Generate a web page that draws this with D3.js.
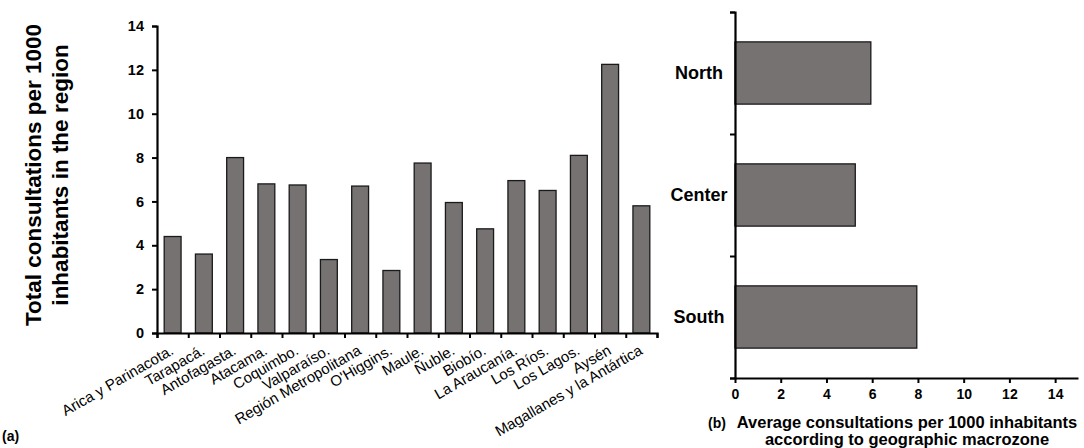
<!DOCTYPE html>
<html lang="en">
<head>
    <meta charset="UTF-8">
    <title>Consultations per 1000 inhabitants</title>
    <style>
        body, html {
            margin: 0;
            padding: 0;
            background-color: #fff;
        }
        svg text {
            font-family: "Liberation Sans", Arial, sans-serif;
            fill: #000;
        }
    </style>
</head>
<body>
    <div id="chart"></div>

    <script src="https://d3js.org/d3.v7.min.js"></script>
    <script>
        // (a) regions
        const regions = ["Arica y Parinacota.", "Tarapacá.", "Antofagasta.", "Atacama.", "Coquimbo.",
            "Valparaíso.", "Región Metropolitana", "O'Higgins.", "Maule.", "Ñuble.", "Biobío.",
            "La Araucanía.", "Los Ríos.", "Los Lagos.", "Aysén", "Magallanes y la Antártica"];
        const regionValues = [4.4, 3.6, 8.0, 6.8, 6.75, 3.35, 6.7, 2.85, 7.75, 5.95, 4.75, 6.95, 6.5, 8.1, 12.25, 5.8];
        const yTicksA = [0, 2, 4, 6, 8, 10, 12, 14];

        // (b) macrozones
        const zones = ["North", "Center", "South"];
        const zoneValues = [5.94, 5.26, 7.95];
        const xTicksB = [0, 2, 4, 6, 8, 10, 12, 14];

        const width = 1084, height = 448;
        const barFill = "#767272";
        const barStroke = "#1a1a1a";

        const svg = d3.select("#chart")
            .append("svg")
            .attr("width", width)
            .attr("height", height);

        // ---------- panel (a) ----------
        const xA = d3.scaleBand().domain(regions).range([157, 657]).paddingInner(0.46).paddingOuter(0.23);
        const xTickA = d3.scaleLinear().domain([0, regions.length]).range([157, 657]);
        const yA = d3.scaleLinear().domain([0, 14]).range([333, 26]);

        svg.append("g")
            .selectAll("rect")
            .data(regionValues)
            .join("rect")
            .attr("x", (d, i) => xA(regions[i]))
            .attr("y", d => yA(d))
            .attr("width", xA.bandwidth())
            .attr("height", d => yA(0) - yA(d))
            .attr("fill", barFill)
            .attr("stroke", barStroke)
            .attr("stroke-width", 1.3);

        const yAxisA = svg.append("g")
            .attr("transform", "translate(157,0)")
            .call(d3.axisLeft(yA).tickValues(yTicksA).tickSize(5).tickPadding(8));
        yAxisA.selectAll("text").attr("font-size", 14.5).attr("font-weight", "bold");

        const xAxisA = svg.append("g")
            .attr("transform", "translate(0,333)")
            .call(d3.axisBottom(xTickA).ticks(regions.length).tickSize(5).tickFormat(""));

        [yAxisA, xAxisA].forEach(g => {
            g.select(".domain").attr("stroke-width", 2.2);
            g.selectAll(".tick line").attr("stroke-width", 2);
        });

        // rotated region labels
        svg.append("g")
            .selectAll("text")
            .data(regions)
            .join("text")
            .attr("transform", d => `translate(${xA(d) + xA.bandwidth() / 2 - 4},${343}) rotate(-30)`)
            .attr("text-anchor", "end")
            .attr("dy", "0.8em")
            .attr("font-size", 15)
            .text(d => d);

        const titleA = svg.append("text")
            .attr("transform", "translate(47,175) rotate(-90)")
            .attr("text-anchor", "middle")
            .attr("font-size", 22.5)
            .attr("font-weight", "bold");
        titleA.append("tspan").attr("x", 0).attr("dy", "-0.25em").text("Total consultations per 1000");
        titleA.append("tspan").attr("x", 0).attr("dy", "1.18em").text("inhabitants in the region");

        svg.append("text")
            .attr("x", 2).attr("y", 441)
            .attr("font-size", 14).attr("font-weight", "bold")
            .text("(a)");

        // ---------- panel (b) ----------
        const yB = d3.scaleBand().domain(zones).range([12, 378]).paddingInner(0.49).paddingOuter(0.245);
        const yTickB = d3.scaleLinear().domain([0, zones.length]).range([12, 378]);
        const xB = d3.scaleLinear().domain([0, 15]).range([735, 1078]);

        svg.append("g")
            .selectAll("rect")
            .data(zoneValues)
            .join("rect")
            .attr("x", xB(0))
            .attr("y", (d, i) => yB(zones[i]))
            .attr("width", d => xB(d) - xB(0))
            .attr("height", yB.bandwidth())
            .attr("fill", barFill)
            .attr("stroke", barStroke)
            .attr("stroke-width", 1.3);

        const yAxisB = svg.append("g")
            .attr("transform", "translate(735,0)")
            .call(d3.axisLeft(yTickB).ticks(zones.length).tickSize(5).tickFormat(""));

        const xAxisB = svg.append("g")
            .attr("transform", "translate(0,378)")
            .call(d3.axisBottom(xB).tickValues(xTicksB).tickSize(5).tickPadding(6).tickSizeOuter(0));
        xAxisB.selectAll("text").attr("font-size", 14).attr("font-weight", "bold");

        [yAxisB, xAxisB].forEach(g => {
            g.select(".domain").attr("stroke-width", 2.2);
            g.selectAll(".tick line").attr("stroke-width", 2);
        });

        svg.append("g")
            .selectAll("text")
            .data(zones)
            .join("text")
            .attr("x", 699)
            .attr("y", d => yB(d) + yB.bandwidth() / 2)
            .attr("dy", "0.35em")
            .attr("text-anchor", "middle")
            .attr("font-size", 18)
            .attr("font-weight", "bold")
            .text(d => d);

        const titleB = svg.append("text")
            .attr("text-anchor", "middle")
            .attr("font-size", 16.5)
            .attr("font-weight", "bold");
        titleB.append("tspan").attr("x", 907).attr("y", 428).text("Average consultations per 1000 inhabitants");
        titleB.append("tspan").attr("x", 907).attr("y", 445).text("according to geographic macrozone");

        svg.append("text")
            .attr("x", 708).attr("y", 428)
            .attr("font-size", 14).attr("font-weight", "bold")
            .text("(b)");
    </script>
</body>
</html>
